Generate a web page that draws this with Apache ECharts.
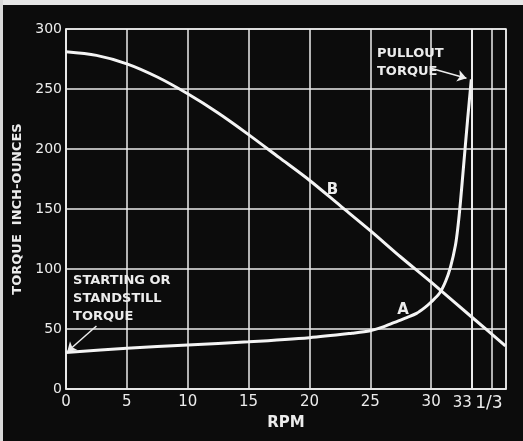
<!DOCTYPE html>
<html>
<head>
<meta charset="utf-8">
<script src="https://cdn.jsdelivr.net/npm/echarts@6/dist/echarts.min.js"></script>
<style>
html,body{margin:0;padding:0;background:#0c0c0c;}
#c{width:523px;height:441px;}
</style>
</head>
<body>
<div id="c"></div>
<script>
// Curve B (upper, falling)
const rpmB = [0, 2.5, 5, 7.5, 10, 12.5, 15, 17.5, 20, 22.5, 25, 27.5, 30, 33.33, 36.1];
const torqueB = [281, 278, 271, 260, 246, 230, 212, 193, 174, 153, 132, 110, 89, 60, 36];
// Curve A (lower, rising to pullout)
const rpmA = [0, 5, 10, 15, 20, 23.5, 25, 26, 27, 28, 28.8, 29.5, 30, 30.7, 31.2, 31.6, 32, 32.2, 32.4, 32.7, 33.0, 33.3];
const torqueA = [30.5, 34, 36.7, 39.4, 42.8, 46.5, 48.5, 51.5, 55.5, 59.5, 63, 68, 72.5, 80, 90, 102, 120, 135, 155, 190, 225, 258];
const yTicks = [0, 50, 100, 150, 200, 250, 300];
const xTicks = [0, 5, 10, 15, 20, 25, 30];
const syncRpm = 33.333;
const syncLabel = ['33', '1/3'];
const notes = [
  {text: 'PULLOUT\nTORQUE', x: 25.55, y: 287},
  {text: 'STARTING OR\nSTANDSTILL\nTORQUE', x: 0.58, y: 97.5},
  {text: 'A', x: 27.7, y: 65.8, center: true},
  {text: 'B', x: 21.9, y: 165.8, center: true}
];
const arrows = [
  [[29.9, 267.5], [32.9, 259]],
  [[2.5, 52.5], [0.1, 31]]
];

const FONT = 'DejaVu Sans';
const W = '#ececec';
const chart = echarts.init(document.getElementById('c'));
const zip = (xs, ys) => xs.map((x, i) => [x, ys[i]]);

chart.setOption({
  backgroundColor: '#0c0c0c',
  animation: false,
  grid: {left: 66, right: 17, top: 29, bottom: 52, show: true, borderColor: W, borderWidth: 1.5, backgroundColor: 'transparent'},
  xAxis: {
    type: 'value', min: 0, max: 36.15, interval: 5,
    name: 'RPM', nameLocation: 'middle', nameGap: 27,
    nameTextStyle: {color: W, fontFamily: FONT, fontSize: 15, fontWeight: 'bold'},
    axisLine: {show: true, lineStyle: {color: W, width: 1.5}},
    axisTick: {show: false},
    axisLabel: {color: W, fontFamily: FONT, fontSize: 15, margin: 6,
      formatter: v => xTicks.includes(v) ? String(v) : ''},
    splitLine: {show: true, lineStyle: {color: W, width: 1.5}}
  },
  yAxis: {
    type: 'value', min: 0, max: 300, interval: 50,
    name: 'TORQUE  INCH-OUNCES', nameLocation: 'middle', nameGap: 30,
    nameTextStyle: {color: W, fontFamily: FONT, fontSize: 13, fontWeight: 'bold'},
    axisLine: {show: true, lineStyle: {color: W, width: 1.5}},
    axisTick: {show: false},
    axisLabel: {color: W, fontFamily: FONT, fontSize: 14, margin: 4,
      formatter: v => yTicks.includes(v) ? String(v) : ''},
    splitLine: {show: true, lineStyle: {color: W, width: 1.5}}
  },
  series: [
    {
      type: 'line', data: zip(rpmB, torqueB), smooth: 0.3,
      showSymbol: false, lineStyle: {color: '#f4f4f4', width: 3}
    },
    {
      type: 'line', data: zip(rpmA, torqueA), smooth: 0.3,
      showSymbol: false, lineStyle: {color: '#f4f4f4', width: 3},
      markLine: {
        silent: true, symbol: ['none', 'none'],
        lineStyle: {color: W, width: 2, type: 'solid'},
        label: {
          show: true, position: 'start', distance: 6, offset: [6, 0],
          formatter: '{n|' + syncLabel[0] + '} {f|' + syncLabel[1] + '}',
          rich: {
            n: {color: W, fontFamily: FONT, fontSize: 15},
            f: {color: W, fontFamily: FONT, fontSize: 17}
          }
        },
        data: [{xAxis: syncRpm}]
      }
    },
    {
      type: 'line', data: [], showSymbol: false,
      markLine: {
        silent: true, symbol: ['none', 'arrow'], symbolSize: 9,
        lineStyle: {color: W, width: 1.5, type: 'solid'},
        label: {show: false},
        data: arrows.map(a => [{coord: a[0]}, {coord: a[1]}])
      }
    }
  ]
});

const g = [
  {type: 'rect', shape: {x: 0, y: 0, width: 523, height: 5}, style: {fill: '#e6e6e6'}, z: 100},
  {type: 'rect', shape: {x: 0, y: 0, width: 3, height: 441}, style: {fill: '#d8d8d8'}, z: 100}
];
notes.forEach(n => {
  const p = chart.convertToPixel({gridIndex: 0}, [n.x, n.y]);
  g.push({
    type: 'text', x: p[0], y: p[1], z: 50,
    style: {text: n.text, fill: W, font: 'bold ' + (n.center ? '15px ' : '13px ') + '"' + FONT + '"',
      lineHeight: 18, align: n.center ? 'center' : 'left', verticalAlign: n.center ? 'middle' : 'top'}
  });
});
chart.setOption({graphic: g});
</script>
</body>
</html>
